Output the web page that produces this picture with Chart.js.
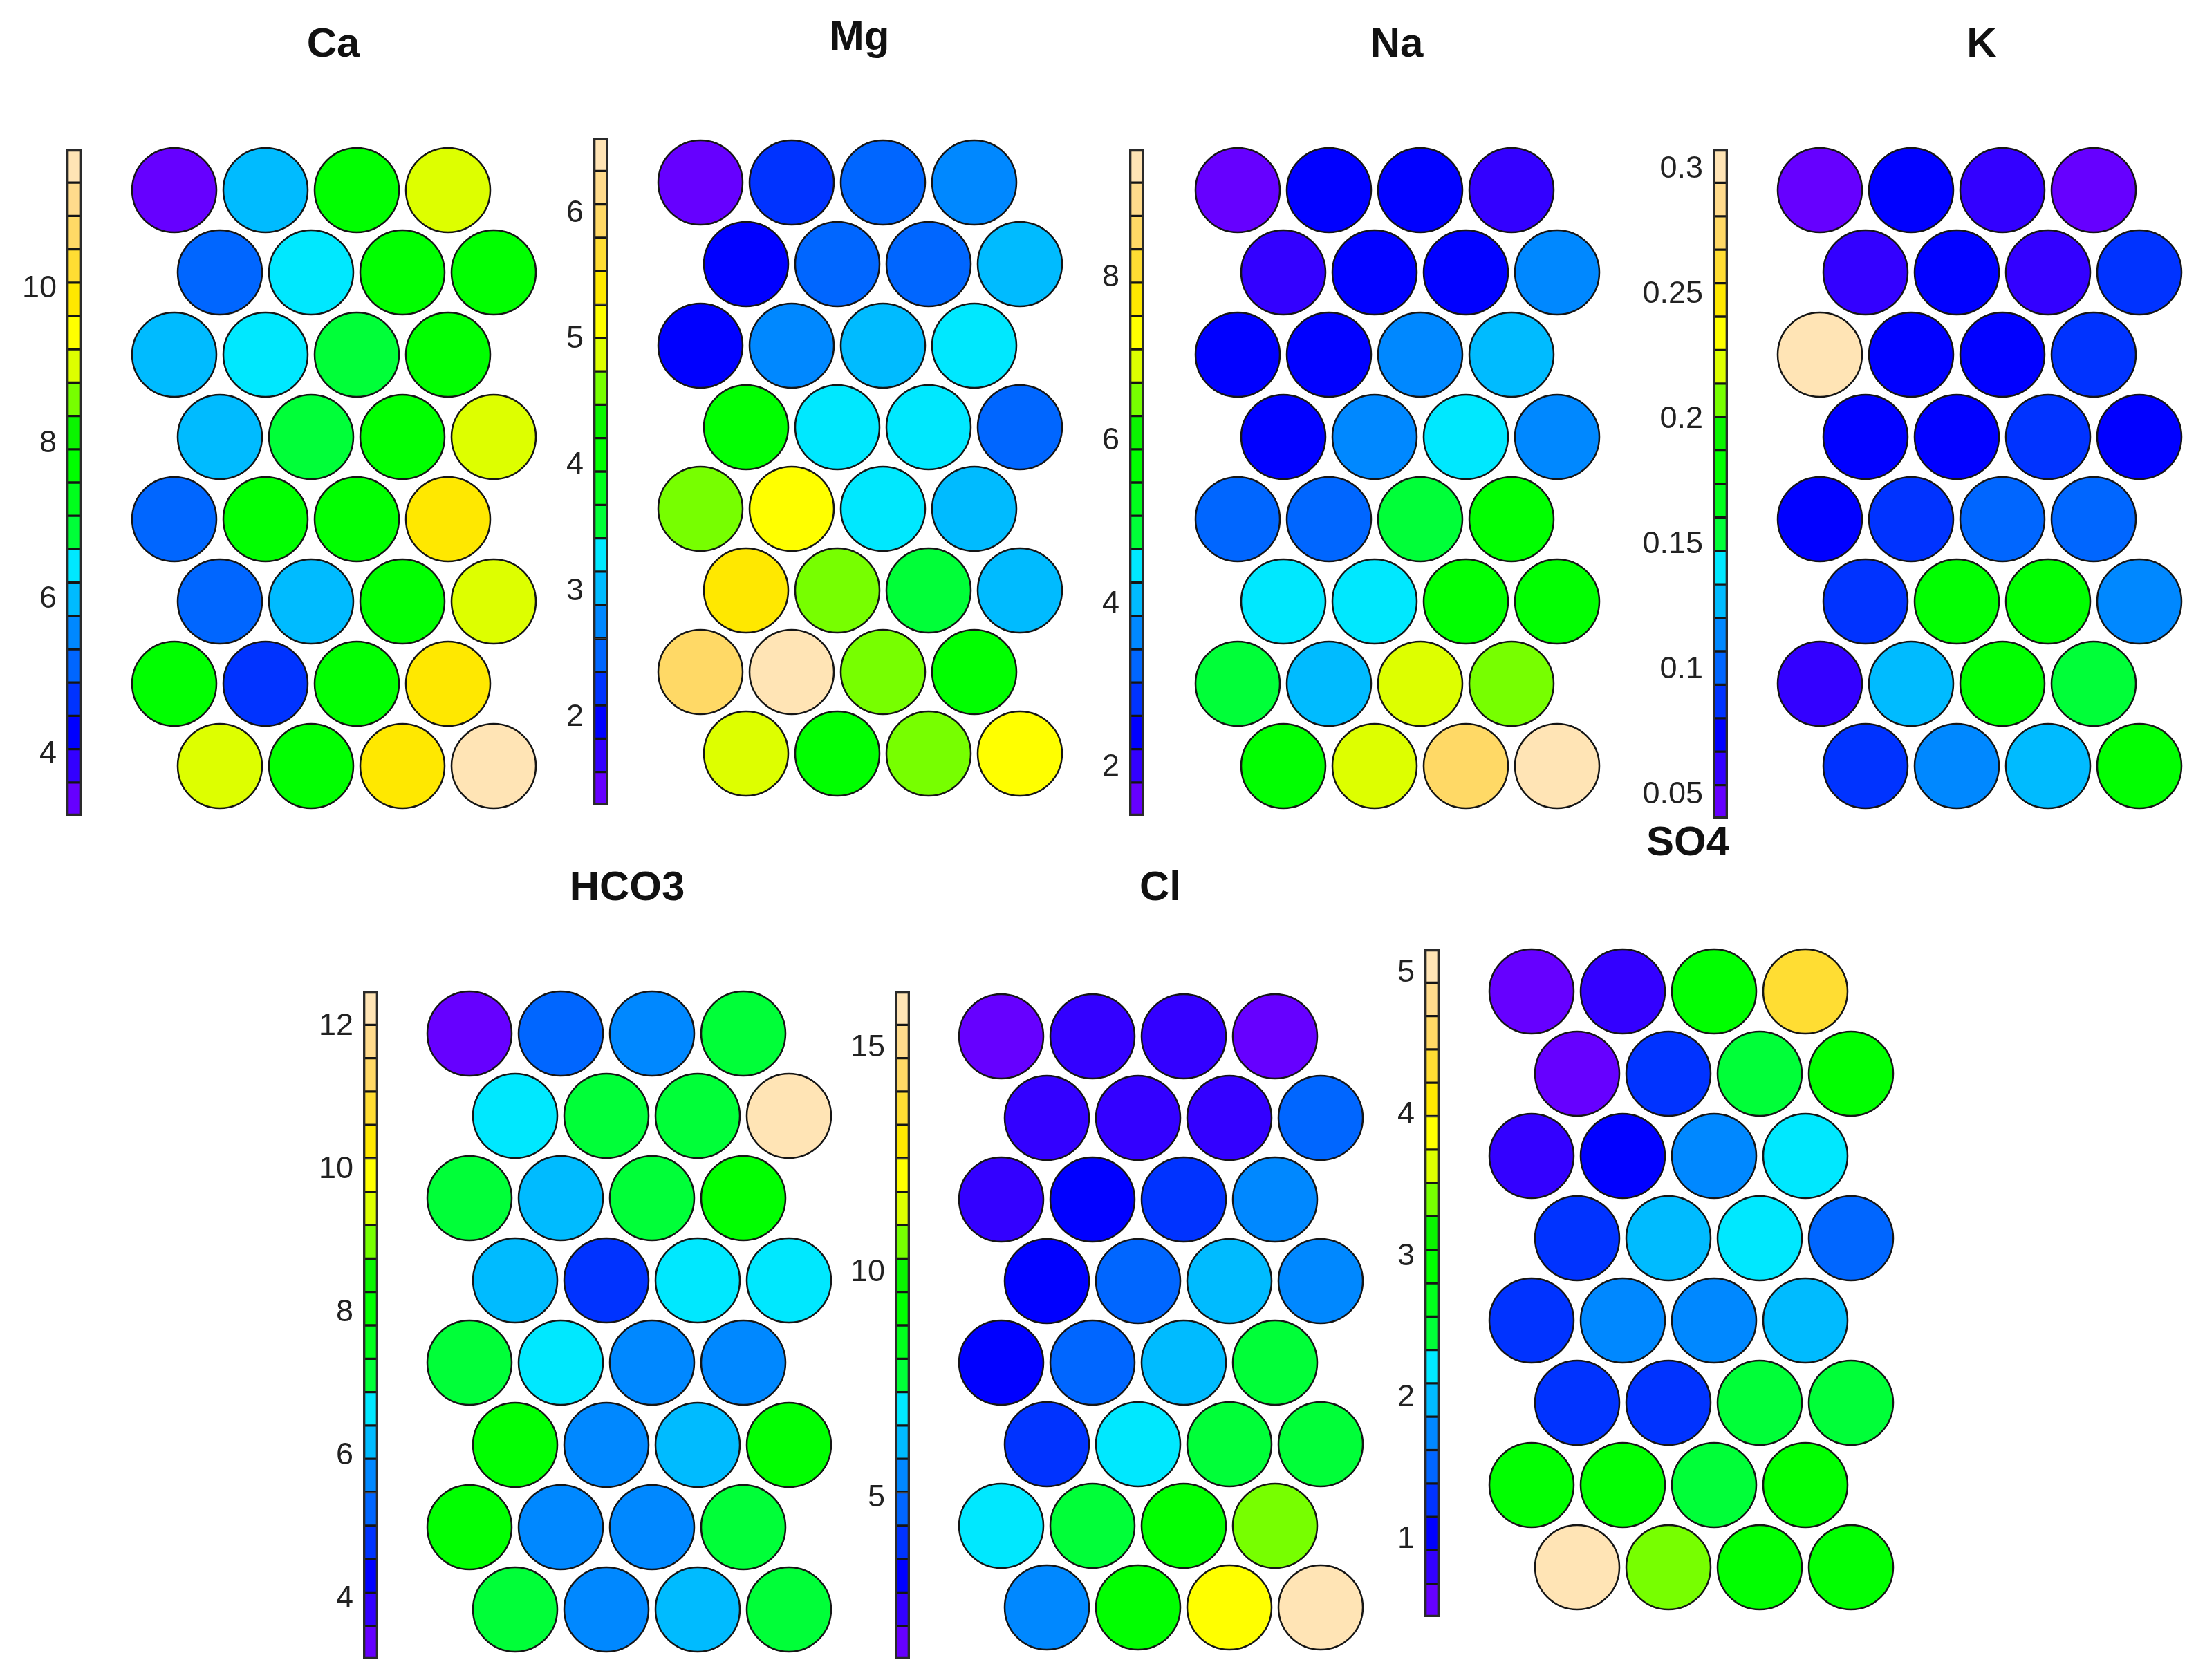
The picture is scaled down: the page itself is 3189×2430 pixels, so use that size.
<!DOCTYPE html>
<html>
<head>
<meta charset="utf-8">
<title>SOM component planes</title>
<script src="https://cdn.jsdelivr.net/npm/chart.js@4.4.1/dist/chart.umd.min.js"></script>
<style>
  html, body { margin: 0; padding: 0; background: #fff; }
  #page { position: relative; width: 3189px; height: 2430px; overflow: hidden; font-family: "Liberation Sans", Arial, sans-serif; }
  #page canvas { position: absolute; }
  .title { position: absolute; font-weight: bold; font-size: 60px; color: #111; transform: translate(-50%, -50%); white-space: nowrap; }
</style>
</head>
<body>
<div id="page"></div>
<script>
/* ==========================
   DATA (8 rows x 4 neurons, row by row, top row first)
========================== */
const titles = ["Ca", "Mg", "Na", "K", "HCO3", "Cl", "SO4"];

const caValues = [
  3.40, 6.02, 7.70, 9.05,
  5.12, 6.45, 7.74, 7.68,
  5.98, 6.41, 6.88, 7.75,
  6.03, 6.84, 7.71, 8.98,
  5.16, 7.69, 7.73, 9.85,
  5.13, 6.00, 7.76, 9.02,
  7.70, 4.69, 7.72, 9.88,
  9.00, 7.74, 9.90, 11.60
];
const caRange = [3.2, 11.8];
const caTicks = [4, 6, 8, 10];

const mgValues = [
  1.43, 2.22, 2.50, 2.77,
  1.95, 2.48, 2.51, 3.03,
  1.97, 2.75, 3.01, 3.30,
  4.07, 3.28, 3.31, 2.47,
  4.62, 5.15, 3.29, 3.02,
  5.40, 4.60, 3.55, 3.04,
  5.93, 6.48, 4.61, 4.09,
  4.88, 4.08, 4.63, 5.14
];
const mgRange = [1.3, 6.6];
const mgTicks = [2, 3, 4, 5, 6];

const naValues = [
  1.60, 2.41, 2.44, 2.02,
  2.00, 2.43, 2.40, 3.65,
  2.42, 2.45, 3.63, 4.06,
  2.39, 3.66, 4.47, 3.62,
  3.24, 3.22, 4.88, 5.70,
  4.45, 4.48, 5.68, 5.71,
  4.86, 4.04, 6.92, 6.49,
  5.67, 6.90, 8.56, 9.38
];
const naRange = [1.4, 9.57];
const naTicks = [2, 4, 6, 8];

const kValues = [
  0.047, 0.074, 0.060, 0.048,
  0.061, 0.073, 0.062, 0.087,
  0.301, 0.075, 0.074, 0.088,
  0.073, 0.074, 0.086, 0.075,
  0.074, 0.088, 0.100, 0.102,
  0.087, 0.181, 0.180, 0.114,
  0.061, 0.127, 0.182, 0.154,
  0.088, 0.113, 0.128, 0.181
];
const kRange = [0.0405, 0.308];
const kTicks = [0.05, 0.1, 0.15, 0.2, 0.25, 0.3];

const hco3Values = [
  3.39, 5.27, 5.71, 7.12,
  6.65, 7.14, 7.11, 12.27,
  7.13, 6.18, 7.15, 8.05,
  6.20, 4.80, 6.66, 6.68,
  7.12, 6.64, 5.73, 5.70,
  8.07, 5.72, 6.18, 8.04,
  8.06, 5.71, 5.74, 7.14,
  7.11, 5.73, 6.21, 7.13
];
const hco3Range = [3.16, 12.49];
const hco3Ticks = [4, 6, 8, 10, 12];

const clValues = [
  1.77, 2.51, 2.53, 1.80,
  2.52, 2.50, 2.54, 4.74,
  2.51, 3.27, 4.00, 5.48,
  3.25, 4.76, 6.22, 5.50,
  3.28, 4.73, 6.24, 7.71,
  4.02, 6.98, 7.73, 7.70,
  6.96, 7.74, 9.21, 10.68,
  5.51, 9.19, 12.17, 15.90
];
const clRange = [1.41, 16.25];
const clTicks = [5, 10, 15];

const so4Values = [
  0.57, 0.80, 2.93, 4.34,
  0.58, 1.27, 2.45, 2.94,
  0.81, 1.04, 1.75, 2.22,
  1.28, 1.98, 2.23, 1.51,
  1.29, 1.74, 1.76, 1.99,
  1.27, 1.30, 2.46, 2.47,
  2.92, 2.94, 2.45, 2.93,
  5.05, 3.40, 2.92, 2.95
];
const so4Range = [0.45, 5.17];
const so4Ticks = [1, 2, 3, 4, 5];

/* ==========================
   STYLE / LAYOUT
========================== */
// 20 discrete steps, bottom (low) to top (high)
const colorSteps = [
  "#6600ff", "#3300ff", "#0000ff", "#0033ff", "#0066ff",
  "#0088ff", "#00bbff", "#00e8ff", "#00ff38", "#00ff1c",
  "#00ff00", "#0af500", "#77ff00", "#ddff00", "#ffff00",
  "#ffe800", "#ffdd33", "#ffd966", "#ffdb8c", "#ffe4b5"
];

const panels = [
  { values: caValues,   range: caRange,   ticks: caTicks,   grid: { x: 252,  y: 275,  dx: 132, dy: 119 }, bar: { x: 96,   y: 216,  w: 22, h: 964 }, label: { x: 482,  y: 61 } },
  { values: mgValues,   range: mgRange,   ticks: mgTicks,   grid: { x: 1013, y: 264,  dx: 132, dy: 118 }, bar: { x: 858,  y: 199,  w: 22, h: 966 }, label: { x: 1243, y: 51 } },
  { values: naValues,   range: naRange,   ticks: naTicks,   grid: { x: 1790, y: 275,  dx: 132, dy: 119 }, bar: { x: 1633, y: 216,  w: 22, h: 964 }, label: { x: 2020, y: 61 } },
  { values: kValues,    range: kRange,    ticks: kTicks,    grid: { x: 2632, y: 275,  dx: 132, dy: 119 }, bar: { x: 2477, y: 216,  w: 22, h: 968 }, label: { x: 2866, y: 61 } },
  { values: hco3Values, range: hco3Range, ticks: hco3Ticks, grid: { x: 679,  y: 1495, dx: 132, dy: 119 }, bar: { x: 525,  y: 1434, w: 22, h: 966 }, label: { x: 907,  y: 1281 } },
  { values: clValues,   range: clRange,   ticks: clTicks,   grid: { x: 1448, y: 1499, dx: 132, dy: 118 }, bar: { x: 1294, y: 1434, w: 22, h: 966 }, label: { x: 1678, y: 1281 } },
  { values: so4Values,  range: so4Range,  ticks: so4Ticks,  grid: { x: 2215, y: 1434, dx: 132, dy: 119 }, bar: { x: 2060, y: 1373, w: 22, h: 966 }, label: { x: 2441, y: 1216 } }
];

const page = document.getElementById("page");

function colorFor(v, range) {
  const [lo, hi] = range;
  let i = Math.floor((v - lo) / (hi - lo) * colorSteps.length);
  i = Math.max(0, Math.min(colorSteps.length - 1, i));
  return colorSteps[i];
}

function addCanvas(left, top, w, h) {
  const c = document.createElement("canvas");
  c.width = w;
  c.height = h;
  c.style.left = left + "px";
  c.style.top = top + "px";
  c.style.width = w + "px";
  c.style.height = h + "px";
  page.appendChild(c);
  return c;
}

/* ==========================
   HEX MAP (scatter)
========================== */
function drawMap(p) {
  const pad = 80;
  const g = p.grid;
  const w = Math.round(3.5 * g.dx + 2 * pad);
  const h = Math.round(7 * g.dy + 2 * pad);
  const canvas = addCanvas(g.x - pad, g.y - pad, w, h);

  const points = p.values.map((v, i) => {
    const row = Math.floor(i / 4);
    return { x: (i % 4) + (row % 2 ? 0.5 : 0), y: row, v };
  });

  new Chart(canvas, {
    type: "scatter",
    data: {
      datasets: [{
        data: points,
        pointRadius: 61,
        pointHoverRadius: 61,
        pointBackgroundColor: points.map(pt => colorFor(pt.v, p.range)),
        pointBorderColor: "#151515",
        pointBorderWidth: 2.5,
        clip: false
      }]
    },
    options: {
      responsive: false,
      animation: false,
      events: [],
      layout: { padding: 0, autoPadding: false },
      plugins: { legend: { display: false }, tooltip: { enabled: false } },
      scales: {
        x: { display: false, min: -pad / g.dx, max: 3.5 + pad / g.dx },
        y: { display: false, reverse: true, min: -pad / g.dy, max: 7 + pad / g.dy }
      }
    }
  });
}

/* ==========================
   COLOUR BAR (floating bars)
========================== */
function drawBar(p) {
  const b = p.bar;
  const labelW = 160;
  const padV = 40;
  const canvas = addCanvas(b.x - labelW, b.y - padV, labelW + b.w, b.h + 2 * padV);
  const [lo, hi] = p.range;
  const step = (hi - lo) / colorSteps.length;

  const common = { grouped: false, barPercentage: 1, categoryPercentage: 1, borderSkipped: false };
  const outline = { ...common, data: [[lo, hi]], backgroundColor: "rgba(0,0,0,0)", borderColor: "#2a2a2a", borderWidth: 3 };
  const segments = colorSteps.map((col, i) => ({
    ...common,
    data: [[lo + i * step, lo + (i + 1) * step]],
    backgroundColor: col,
    borderColor: "#151515",
    borderWidth: 2
  }));

  new Chart(canvas, {
    type: "bar",
    data: { labels: [""], datasets: [outline, ...segments] },
    options: {
      responsive: false,
      animation: false,
      events: [],
      layout: { padding: { top: padV, bottom: padV, left: 0, right: 0 }, autoPadding: false },
      plugins: { legend: { display: false }, tooltip: { enabled: false } },
      scales: {
        x: { display: false },
        y: {
          position: "left",
          min: lo,
          max: hi,
          grid: { display: false, drawTicks: false },
          border: { display: false },
          afterBuildTicks: s => { s.ticks = p.ticks.map(v => ({ value: v })); },
          afterFit: s => { s.width = labelW; s.paddingTop = 0; s.paddingBottom = 0; },
          ticks: {
            autoSkip: false,
            color: "#222",
            padding: 14,
            font: { size: 45, family: "Liberation Sans" },
            callback: v => String(v)
          }
        }
      }
    }
  });
}

panels.forEach((p, i) => {
  drawBar(p);
  drawMap(p);
  const t = document.createElement("div");
  t.className = "title";
  t.textContent = titles[i];
  t.style.left = p.label.x + "px";
  t.style.top = p.label.y + "px";
  page.appendChild(t);
});
</script>
</body>
</html>
